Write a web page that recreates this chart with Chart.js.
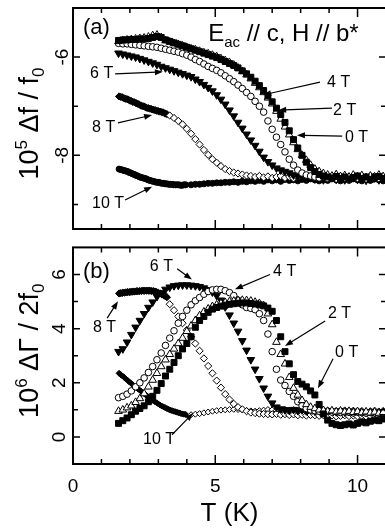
<!DOCTYPE html>
<html>
<head>
<meta charset="utf-8">
<script src="https://cdn.jsdelivr.net/npm/chart.js@4.4.1/dist/chart.umd.min.js"></script>
<style>
  html, body { margin: 0; padding: 0; background: #fff; overflow: hidden; }
  #wrap { position: relative; width: 385px; height: 529px; overflow: hidden; }
  .panel { position: absolute; left: 0; }
  #panelA { top: 0; }
  #panelB { top: 236px; }
</style>
</head>
<body>
<div id="wrap">
  <div class="panel" id="panelA"><canvas id="chartA" width="392" height="240"></canvas></div>
  <div class="panel" id="panelB"><canvas id="chartB" width="392" height="293"></canvas></div>
</div>
<script>
// temperature sweep used for 0-6 T (K)
const temps = [
  1.6, 1.75, 1.9, 2.05, 2.2, 2.35, 2.5, 2.65, 2.8, 2.95,
  3.1, 3.25, 3.4, 3.55, 3.7, 3.85, 4.0, 4.15, 4.3, 4.45,
  4.6, 4.75, 4.9, 5.05, 5.2, 5.35, 5.5, 5.65, 5.8, 5.95,
  6.1, 6.25, 6.4, 6.55, 6.7, 6.85, 7.0, 7.15, 7.3, 7.45,
  7.6, 7.75, 7.9, 8.05, 8.2, 8.35, 8.5, 8.65, 8.8, 8.95,
  9.1, 9.25, 9.4, 9.55, 9.7, 9.85, 10.0, 10.15, 10.3, 10.45,
  10.6, 10.75, 10.9
];
// 8 T sweep, finer below 3.3 K
const temps8 = [
  1.62, 1.68, 1.74, 1.8, 1.86, 1.92, 1.98, 2.04, 2.1, 2.16,
  2.22, 2.28, 2.34, 2.4, 2.46, 2.52, 2.58, 2.64, 2.7, 2.76,
  2.82, 2.88, 2.94, 3.0, 3.06, 3.12, 3.18, 3.24, 3.3,
  3.4, 3.55, 3.7, 3.85, 4.0, 4.15, 4.3, 4.45,
  4.6, 4.75, 4.9, 5.05, 5.2, 5.35, 5.5, 5.65, 5.8, 5.95,
  6.1, 6.25, 6.4, 6.55, 6.7, 6.85, 7.0, 7.15, 7.3, 7.45,
  7.6, 7.75, 7.9, 8.05, 8.2, 8.35, 8.5, 8.65, 8.8, 8.95,
  9.1, 9.25, 9.4, 9.55, 9.7, 9.85, 10.0, 10.15, 10.3, 10.45,
  10.6, 10.75, 10.9
];
// 10 T sweep, finer below 4 K
const temps10 = [
  1.62, 1.68, 1.74, 1.8, 1.86, 1.92, 1.98, 2.04, 2.1, 2.16,
  2.22, 2.28, 2.34, 2.4, 2.46, 2.52, 2.58, 2.64, 2.7, 2.76,
  2.82, 2.88, 2.94, 3.0, 3.06, 3.12, 3.18, 3.24, 3.3, 3.36,
  3.42, 3.48, 3.54, 3.6, 3.66, 3.72, 3.78, 3.84, 3.9, 3.96,
  4.15, 4.3, 4.45,
  4.6, 4.75, 4.9, 5.05, 5.2, 5.35, 5.5, 5.65, 5.8, 5.95,
  6.1, 6.25, 6.4, 6.55, 6.7, 6.85, 7.0, 7.15, 7.3, 7.45,
  7.6, 7.75, 7.9, 8.05, 8.2, 8.35, 8.5, 8.65, 8.8, 8.95,
  9.1, 9.25, 9.4, 9.55, 9.7, 9.85, 10.0, 10.15, 10.3, 10.45,
  10.6, 10.75, 10.9
];

const fields = ['0 T', '2 T', '4 T', '6 T', '8 T', '10 T'];

// (a) 10^5 Δf/f0
const dfA0 = [
  -5.66, -5.65, -5.65, -5.64, -5.64, -5.63, -5.63, -5.62, -5.6, -5.58,
  -5.6, -5.65, -5.68, -5.71, -5.74, -5.77, -5.8, -5.83, -5.86, -5.89,
  -5.92, -5.95, -5.98, -6.01, -6.05, -6.09, -6.13, -6.17, -6.22, -6.28,
  -6.34, -6.41, -6.49, -6.58, -6.68, -6.79, -6.91, -7.04, -7.17, -7.33,
  -7.5, -7.68, -7.85, -8.0, -8.14, -8.25, -8.33, -8.39, -8.42, -8.44,
  -8.46, -8.43, -8.47, -8.44, -8.48, -8.45, -8.42, -8.47, -8.44, -8.49,
  -8.45, -8.43, -8.47
];
const dfA2 = [
  -5.68, -5.66, -5.65, -5.64, -5.63, -5.62, -5.61, -5.59, -5.56, -5.55,
  -5.6, -5.66, -5.69, -5.72, -5.74, -5.77, -5.8, -5.83, -5.85, -5.88,
  -5.91, -5.93, -5.96, -5.99, -6.03, -6.07, -6.11, -6.16, -6.22, -6.29,
  -6.36, -6.44, -6.53, -6.62, -6.72, -6.83, -6.95, -7.1, -7.26, -7.42,
  -7.58, -7.74, -7.88, -8.0, -8.1, -8.2, -8.28, -8.33, -8.37, -8.4,
  -8.42, -8.39, -8.43, -8.41, -8.44, -8.4, -8.43, -8.41, -8.45, -8.42,
  -8.44, -8.4, -8.43
];
const dfA4 = [
  -5.72, -5.73, -5.73, -5.74, -5.75, -5.76, -5.77, -5.78, -5.79, -5.8,
  -5.82, -5.84, -5.86, -5.88, -5.9, -5.93, -5.96, -6.0, -6.05, -6.09,
  -6.14, -6.19, -6.23, -6.27, -6.32, -6.38, -6.44, -6.5, -6.57, -6.64,
  -6.72, -6.8, -6.9, -7.0, -7.12, -7.3, -7.47, -7.63, -7.78, -7.93,
  -8.08, -8.2, -8.3, -8.36, -8.4, -8.42, -8.44, -8.46, -8.43, -8.47,
  -8.45, -8.48, -8.44, -8.46, -8.49, -8.45, -8.47, -8.44, -8.48, -8.46,
  -8.43, -8.47, -8.45
];
const dfA6 = [
  -5.92, -5.94, -5.96, -5.98, -6.0, -6.03, -6.06, -6.09, -6.12, -6.15,
  -6.19, -6.22, -6.25, -6.28, -6.31, -6.34, -6.37, -6.4, -6.45, -6.5,
  -6.56, -6.62, -6.69, -6.77, -6.86, -6.96, -7.08, -7.2, -7.33, -7.45,
  -7.57, -7.69, -7.8, -7.92, -8.04, -8.13, -8.2, -8.26, -8.3, -8.33,
  -8.36, -8.4, -8.43, -8.45, -8.47, -8.44, -8.48, -8.46, -8.5, -8.47,
  -8.45, -8.49, -8.46, -8.5, -8.47, -8.45, -8.49, -8.47, -8.51, -8.48,
  -8.46, -8.5, -8.48
];
const dfA8 = [
  -6.8, -6.81, -6.82, -6.84, -6.85, -6.86, -6.88, -6.89, -6.91, -6.92,
  -6.94, -6.95, -6.97, -6.99, -7.0, -7.01, -7.03, -7.04, -7.05, -7.06,
  -7.07, -7.08, -7.09, -7.1, -7.11, -7.12, -7.13, -7.15, -7.16,
  -7.19, -7.24, -7.3, -7.37, -7.46, -7.56, -7.67, -7.78,
  -7.89, -7.99, -8.08, -8.15, -8.22, -8.28, -8.32, -8.35, -8.37, -8.39,
  -8.41, -8.42, -8.44, -8.42, -8.45, -8.43, -8.46, -8.44, -8.42, -8.46,
  -8.44, -8.47, -8.45, -8.43, -8.46, -8.44, -8.42, -8.45, -8.47, -8.44,
  -8.46, -8.43, -8.45, -8.47, -8.44, -8.46, -8.43, -8.45, -8.47, -8.44,
  -8.46, -8.43, -8.45
];
const dfA10 = [
  -8.28, -8.29, -8.3, -8.31, -8.32, -8.33, -8.35, -8.36, -8.38, -8.39,
  -8.41, -8.42, -8.44, -8.45, -8.46, -8.47, -8.48, -8.5, -8.51, -8.52,
  -8.53, -8.54, -8.55, -8.55, -8.56, -8.57, -8.57, -8.58, -8.58, -8.59,
  -8.59, -8.59, -8.6, -8.6, -8.6, -8.6, -8.61, -8.61, -8.6, -8.6,
  -8.6, -8.59, -8.59,
  -8.58, -8.57, -8.57, -8.56, -8.56, -8.55, -8.55, -8.54, -8.55, -8.53,
  -8.54, -8.52, -8.53, -8.51, -8.53, -8.5, -8.52, -8.5, -8.53, -8.49,
  -8.51, -8.5, -8.52, -8.49, -8.51, -8.48, -8.5, -8.52, -8.49, -8.51,
  -8.48, -8.5, -8.52, -8.49, -8.51, -8.48, -8.5, -8.52, -8.49, -8.51,
  -8.48, -8.5, -8.52
];

// (b) 10^6 ΔΓ/2f0
const dgB0 = [
  0.5, 0.6, 0.7, 0.82, 0.95, 1.05, 1.15, 1.3, 1.5, 1.72,
  1.97, 2.25, 2.5, 2.75, 3.0, 3.25, 3.45, 3.7, 4.05, 4.3,
  4.45, 4.6, 4.72, 4.78, 4.83, 4.87, 4.9, 4.92, 4.94, 4.95,
  4.95, 4.93, 4.91, 4.88, 4.84, 4.76, 4.64, 4.3, 3.7, 3.15,
  2.7, 2.3, 2.05, 1.95, 1.85, 1.7, 1.55, 1.2, 0.85, 0.62,
  0.5, 0.45, 0.42, 0.45, 0.48, 0.44, 0.5, 0.55, 0.52, 0.58,
  0.62, 0.6, 0.66
];
const dgB2 = [
  0.95, 1.0, 1.08, 1.15, 1.28, 1.42, 1.6, 1.85, 2.1, 2.35,
  2.6, 2.85, 3.05, 3.25, 3.45, 3.65, 3.9, 4.1, 4.3, 4.48,
  4.62, 4.73, 4.82, 4.88, 4.93, 4.97, 5.0, 5.02, 5.04, 5.05,
  5.04, 5.02, 4.98, 4.93, 4.85, 4.55, 4.15, 3.5, 3.05, 2.7,
  2.2, 1.8, 1.55, 1.35, 1.2, 1.1, 1.05, 1.0, 0.98, 0.95,
  0.97, 0.93, 0.96, 0.92, 0.95, 0.91, 0.94, 0.9, 0.93, 0.89,
  0.92, 0.88, 0.91
];
const dgB4 = [
  1.45, 1.5, 1.58, 1.7, 1.85, 2.0, 2.18, 2.38, 2.6, 2.85,
  3.1, 3.38, 3.65, 3.92, 4.2, 4.45, 4.68, 4.88, 5.03, 5.15,
  5.27, 5.37, 5.43, 5.45, 5.45, 5.4, 5.33, 5.22, 5.05, 4.88,
  4.78, 4.75, 4.7, 4.55, 4.3, 3.8, 3.15, 2.5, 2.1, 1.9,
  1.68, 1.5, 1.3, 1.15, 1.05, 1.0, 0.97, 0.95, 0.93, 0.95,
  0.92, 0.94, 0.9, 0.93, 0.91, 0.89, 0.92, 0.9, 0.88, 0.91,
  0.89, 0.87, 0.9
];
const dgB6 = [
  3.15, 3.25, 3.5, 3.78, 4.05, 4.3, 4.55, 4.78, 4.98, 5.18,
  5.32, 5.45, 5.53, 5.58, 5.6, 5.61, 5.61, 5.6, 5.58, 5.55,
  5.5, 5.44, 5.35, 5.22, 5.05, 4.8, 4.5, 4.2, 3.9, 3.55,
  3.2, 2.85, 2.5, 2.15, 1.8, 1.5, 1.25, 1.1, 1.03, 1.0,
  0.98, 1.01, 0.97, 1.0, 0.96, 0.99, 0.95, 0.98, 0.94, 0.97,
  0.95, 0.93, 0.96, 0.92, 0.95, 0.91, 0.94, 0.92, 0.9, 0.93,
  0.91, 0.89, 0.92
];
const dgB8 = [
  5.3, 5.31, 5.32, 5.33, 5.34, 5.35, 5.35, 5.36, 5.37, 5.37,
  5.38, 5.38, 5.39, 5.39, 5.4, 5.4, 5.4, 5.4, 5.4, 5.39,
  5.39, 5.37, 5.35, 5.32, 5.3, 5.27, 5.24, 5.2, 5.16,
  4.9, 4.68, 4.45, 4.2, 3.95, 3.7, 3.45, 3.18,
  2.9, 2.62, 2.35, 2.08, 1.82, 1.58, 1.38, 1.22, 1.1, 1.02,
  0.95, 0.9, 0.88, 0.86, 0.85, 0.84, 0.83, 0.85, 0.82, 0.84,
  0.81, 0.83, 0.8, 0.82, 0.79, 0.81, 0.8, 0.78, 0.8, 0.77,
  0.79, 0.76, 0.78, 0.8, 0.77, 0.79, 0.76, 0.78, 0.75, 0.77,
  0.79, 0.76, 0.78
];
const dgB10 = [
  2.35, 2.3, 2.25, 2.2, 2.14, 2.09, 2.03, 1.98, 1.93, 1.88,
  1.83, 1.78, 1.73, 1.68, 1.63, 1.58, 1.53, 1.48, 1.43, 1.39,
  1.34, 1.3, 1.26, 1.22, 1.18, 1.14, 1.11, 1.08, 1.05, 1.02,
  0.99, 0.97, 0.95, 0.93, 0.91, 0.89, 0.87, 0.85, 0.84, 0.83,
  0.82, 0.84, 0.86,
  0.89, 0.92, 0.95, 0.97, 0.99, 1.0, 1.01, 1.02, 1.01, 1.0,
  0.98, 0.96, 0.95, 0.97, 0.99, 1.01, 1.0, 0.98, 1.0, 1.02,
  0.99, 1.01, 0.98, 1.0, 0.97, 0.99, 1.01, 0.98, 1.0, 0.97,
  0.99, 0.96, 0.98, 1.0, 0.97, 0.99, 0.96, 0.98, 0.95, 0.97,
  0.99, 0.96, 0.98
];

// axis ticks
const xTicks = [0, 1, 2, 3, 4, 5, 6, 7, 8, 9, 10, 11];
const xLabels = [0, 5, 10];
const yTicksA = [-9, -8, -7, -6];
const yLabelsA = [-8, -6];
const yTicksB = [0, 1, 2, 3, 4, 5, 6];
const yLabelsB = [0, 2, 4, 6];

const FONT = '"Liberation Sans", Arial, Helvetica, sans-serif';
Chart.defaults.font.family = FONT;
Chart.defaults.color = '#000';

// dense low-temperature runs print as solid black
const darkBelow = t => c => (c.raw && c.raw.x < t ? '#000' : '#fff');

// marker per field
const markers = {
  '0 T':  { shape: 'rect', r: 4.2, fill: '#000' },
  '2 T':  { shape: 'triangle', r: 4.4, fill: '#fff' },
  '4 T':  { shape: 'circle', r: 3.3, fill: '#fff' },
  '6 T':  { shape: 'triangle', r: 4.4, fill: '#000', rot: 180 },
  '8 T':  { shape: 'rectRot', r: 3.6, fill: darkBelow(3.35) },
  '10 T': { shape: 'circle', r: 3.0, fill: '#000' }
};

function makeSet(field, ts, values, override) {
  const m = Object.assign({}, markers[field], override || {});
  return {
    label: field,
    data: ts.map((t, i) => ({ x: t, y: values[i] })),
    showLine: false,
    pointStyle: m.shape,
    pointRotation: m.rot || 0,
    pointRadius: m.r,
    pointBackgroundColor: m.fill,
    pointBorderColor: '#000',
    pointBorderWidth: 1
  };
}

function richText(ctx, parts, x, y, size, align, vertical) {
  const small = Math.round(size * 0.62);
  ctx.save();
  ctx.translate(x, y);
  if (vertical) ctx.rotate(-Math.PI / 2);
  ctx.textBaseline = 'alphabetic';
  ctx.textAlign = 'left';
  let total = 0;
  parts.forEach(p => {
    ctx.font = (p.sup || p.sub ? small : size) + 'px ' + FONT;
    p.w = ctx.measureText(p.t).width;
    total += p.w;
  });
  let cx = align === 'center' ? -total / 2 : 0;
  parts.forEach(p => {
    ctx.font = (p.sup || p.sub ? small : size) + 'px ' + FONT;
    const dy = p.sup ? -size * 0.42 : (p.sub ? size * 0.24 : 0);
    ctx.fillText(p.t, cx, dy);
    cx += p.w;
  });
  ctx.restore();
}

function arrow(ctx, x0, y0, x1, y1) {
  const ang = Math.atan2(y1 - y0, x1 - x0);
  const len = 8, half = 3;
  ctx.beginPath();
  ctx.moveTo(x0, y0);
  ctx.lineTo(x1 - Math.cos(ang) * len * 0.8, y1 - Math.sin(ang) * len * 0.8);
  ctx.stroke();
  ctx.beginPath();
  ctx.moveTo(x1, y1);
  ctx.lineTo(x1 - Math.cos(ang) * len - Math.sin(ang) * half, y1 - Math.sin(ang) * len + Math.cos(ang) * half);
  ctx.lineTo(x1 - Math.cos(ang) * len + Math.sin(ang) * half, y1 - Math.sin(ang) * len - Math.cos(ang) * half);
  ctx.closePath();
  ctx.fill();
}

// box with inward ticks on all four sides
const framePlugin = {
  id: 'frame',
  afterDatasetsDraw(chart, args, opts) {
    const { ctx, chartArea: a, scales: { x, y } } = chart;
    ctx.save();
    ctx.strokeStyle = '#000';
    ctx.lineWidth = 2;
    ctx.strokeRect(a.left, a.top, a.right - a.left, a.bottom - a.top);
    ctx.lineWidth = 1.5;
    ctx.beginPath();
    xTicks.forEach(v => {
      const px = x.getPixelForValue(v);
      const len = xLabels.includes(v) ? 9 : 5;
      ctx.moveTo(px, a.bottom); ctx.lineTo(px, a.bottom - len);
      ctx.moveTo(px, a.top); ctx.lineTo(px, a.top + len);
    });
    opts.yTicks.forEach(v => {
      const py = y.getPixelForValue(v);
      const len = opts.yLabels.includes(v) ? 7 : 5;
      ctx.moveTo(a.left, py); ctx.lineTo(a.left + len, py);
      ctx.moveTo(a.right, py); ctx.lineTo(a.right - len, py);
    });
    ctx.stroke();
    ctx.restore();
  }
};

// panel tag, axis title, field labels with arrows
const notesPlugin = {
  id: 'notes',
  afterDraw(chart, args, opts) {
    const { ctx, chartArea: a, scales: { x, y } } = chart;
    ctx.save();
    ctx.fillStyle = '#000';
    ctx.strokeStyle = '#000';
    ctx.lineWidth = 1.2;

    ctx.font = '22px ' + FONT;
    ctx.textBaseline = 'middle';
    ctx.fillText(opts.tag.text, x.getPixelForValue(opts.tag.at[0]), y.getPixelForValue(opts.tag.at[1]));

    richText(ctx, opts.title, opts.titleX, (a.top + a.bottom) / 2 + opts.titleShift, 27, 'center', true);

    if (opts.extra) {
      richText(ctx, opts.extra.parts, x.getPixelForValue(opts.extra.at[0]),
        y.getPixelForValue(opts.extra.at[1]), 24, 'left', false);
    }

    opts.marks.forEach(m => {
      ctx.font = '16px ' + FONT;
      ctx.textBaseline = 'middle';
      ctx.fillText(m.text, x.getPixelForValue(m.at[0]), y.getPixelForValue(m.at[1]));
      arrow(ctx, x.getPixelForValue(m.arrow[0]), y.getPixelForValue(m.arrow[1]),
        x.getPixelForValue(m.arrow[2]), y.getPixelForValue(m.arrow[3]));
    });
    ctx.restore();
  }
};

function scalesFor(cfg) {
  return {
    x: {
      type: 'linear',
      min: 0,
      max: 11,
      grid: { display: false },
      border: { display: false },
      afterBuildTicks: s => { s.ticks = xTicks.map(v => ({ value: v })); },
      ticks: {
        display: cfg.showX,
        autoSkip: false,
        maxRotation: 0,
        padding: 3,
        font: { size: 19 },
        callback: v => (xLabels.includes(v) ? String(v) : '')
      },
      title: {
        display: cfg.showX,
        text: 'T (K)',
        font: { size: 26 },
        padding: { top: 0, bottom: 0 }
      },
      afterFit: s => { s.height = cfg.xHeight; }
    },
    y: {
      type: 'linear',
      min: cfg.yMin,
      max: cfg.yMax,
      grid: { display: false },
      border: { display: false },
      afterBuildTicks: s => { s.ticks = cfg.yTicks.map(v => ({ value: v })); },
      ticks: {
        autoSkip: false,
        minRotation: 90,
        maxRotation: 90,
        crossAlign: 'center',
        padding: cfg.yPad,
        font: { size: 19 },
        callback: v => (cfg.yLabels.includes(v) ? String(v) : '')
      },
      afterFit: s => { s.width = 73; }
    }
  };
}

new Chart(document.getElementById('chartA'), {
  type: 'scatter',
  data: {
    datasets: [
      makeSet('0 T', temps, dfA0),
      makeSet('2 T', temps, dfA2),
      makeSet('4 T', temps, dfA4),
      makeSet('6 T', temps, dfA6),
      makeSet('8 T', temps8, dfA8),
      makeSet('10 T', temps10, dfA10)
    ]
  },
  options: {
    responsive: false,
    animation: false,
    events: [],
    layout: { padding: { top: 8, right: 6, left: 0, bottom: 0 } },
    plugins: {
      legend: { display: false },
      tooltip: { enabled: false },
      frame: { yTicks: yTicksA, yLabels: yLabelsA },
      notes: {
        tag: { text: '(a)', at: [0.35, -5.41] },
        title: [{ t: '10' }, { t: '5', sup: true }, { t: ' \u0394f / f' }, { t: '0', sub: true }],
        titleX: 38,
        titleShift: 5,
        extra: {
          parts: [{ t: 'E' }, { t: 'ac', sub: true }, { t: ' // c, H // b*' }],
          at: [4.75, -5.67]
        },
        marks: [
          { text: '6 T', at: [0.6, -6.34], arrow: [1.48, -6.34, 3.16, -6.3] },
          { text: '8 T', at: [0.67, -7.43], arrow: [1.58, -7.34, 2.78, -7.18] },
          { text: '10 T', at: [0.67, -8.99], arrow: [1.83, -8.91, 2.78, -8.64] },
          { text: '4 T', at: [8.93, -6.51], arrow: [8.68, -6.51, 6.68, -6.77] },
          { text: '2 T', at: [9.14, -7.08], arrow: [9.1, -7.04, 7.21, -7.08] },
          { text: '0 T', at: [9.56, -7.63], arrow: [9.46, -7.61, 7.87, -7.59] }
        ]
      }
    },
    scales: scalesFor({
      showX: false, xHeight: 11,
      yMin: -9.5, yMax: -5, yTicks: yTicksA, yLabels: yLabelsA, yPad: -6
    })
  },
  plugins: [framePlugin, notesPlugin]
});

new Chart(document.getElementById('chartB'), {
  type: 'scatter',
  data: {
    datasets: [
      makeSet('0 T', temps, dgB0),
      makeSet('2 T', temps, dgB2),
      makeSet('4 T', temps, dgB4),
      makeSet('6 T', temps, dgB6),
      makeSet('8 T', temps8, dgB8),
      makeSet('10 T', temps10, dgB10, { shape: 'rectRot', r: 3, fill: darkBelow(4) })
    ]
  },
  options: {
    responsive: false,
    animation: false,
    events: [],
    layout: { padding: { top: 9, right: 6, left: 0, bottom: 0 } },
    plugins: {
      legend: { display: false },
      tooltip: { enabled: false },
      frame: { yTicks: yTicksB, yLabels: yLabelsB },
      notes: {
        tag: { text: '(b)', at: [0.35, 6.1] },
        title: [{ t: '10' }, { t: '6', sup: true }, { t: ' \u0394\u0393 / 2f' }, { t: '0', sub: true }],
        titleX: 38,
        titleShift: -5,
        marks: [
          { text: '6 T', at: [2.7, 6.29], arrow: [3.66, 6.21, 4.18, 5.81] },
          { text: '4 T', at: [7.03, 6.1], arrow: [6.92, 6.0, 5.69, 5.45] },
          { text: '8 T', at: [0.7, 4.02], arrow: [1.2, 4.39, 1.58, 5.01] },
          { text: '2 T', at: [8.96, 4.57], arrow: [8.86, 4.28, 7.45, 3.36] },
          { text: '0 T', at: [9.21, 3.11], arrow: [9.14, 2.89, 8.61, 1.8] },
          { text: '10 T', at: [2.46, -0.1], arrow: [3.48, 0.08, 4.22, 0.88] }
        ]
      }
    },
    scales: scalesFor({
      showX: true, xHeight: 65,
      yMin: -1, yMax: 7, yTicks: yTicksB, yLabels: yLabelsB, yPad: 0
    })
  },
  plugins: [framePlugin, notesPlugin]
});
</script>
</body>
</html>
